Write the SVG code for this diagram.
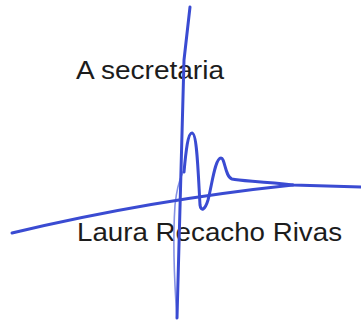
<svg xmlns="http://www.w3.org/2000/svg" width="361" height="322" viewBox="0 0 361 322">
<style>
.t{font-family:"Liberation Sans",Arial,sans-serif;font-size:26.5px;fill:#1c1c1c}
.s{fill:none;stroke:#3a4bd2;stroke-width:3;stroke-linecap:round;stroke-linejoin:round}
.l{fill:none;stroke:#6677dd;stroke-width:1.6;stroke-linecap:round;opacity:0.8}
</style>
<rect width="361" height="322" fill="#fff"/>
<g id="text-title"><text class="t" x="76" y="79" textLength="148" lengthAdjust="spacingAndGlyphs">A secretaria</text></g>
<g id="text-name"><text class="t" x="77" y="241" textLength="265" lengthAdjust="spacingAndGlyphs">Laura Recacho Rivas</text></g>
<g id="signature">
<path class="l" d="M177,318 Q172,250 175,205 Q177,185 183,172"/>
<path class="s" d="M190,7 L184,60 Q181,180 177,318"/>
<path class="s" d="M184,172 C186,150 188,133 192,133 C197,133 198,170 200,205 C201,212 205,210 208,200 C212,185 215,158 221,158 C225,158 225,177 232,179 C240,181 260,181 293,185 L361,187"/>
<path class="s" d="M12,233 Q150,200 293,185"/>
</g>
</svg>
